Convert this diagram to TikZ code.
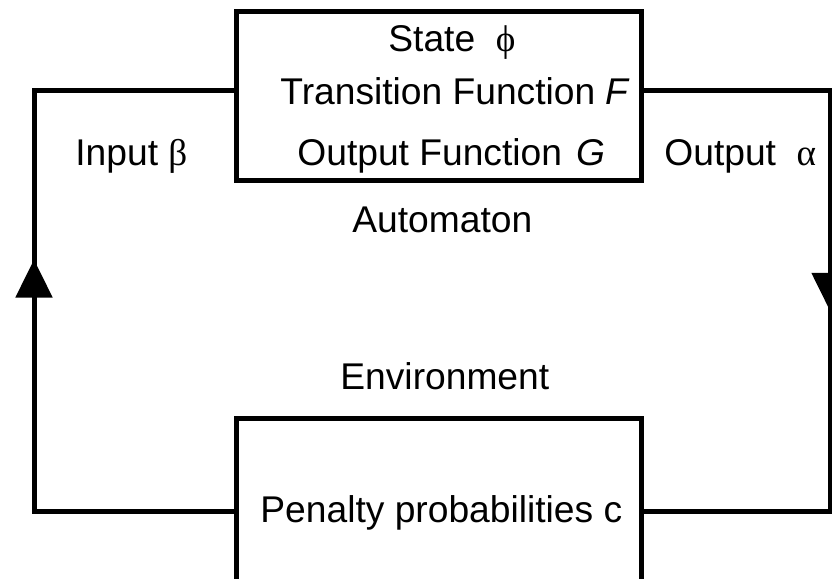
\documentclass[tikz,border=0pt]{standalone}
\usepackage{fontspec}
\setmainfont{Liberation Sans}
\newfontfamily\grk{Liberation Serif}
\usetikzlibrary{arrows.meta,positioning,calc,fit,decorations.markings}

\begin{document}
\begin{tikzpicture}[x=0.5pt, y=-0.5pt, font=\fontsize{18.6}{22}\selectfont]
          \tikzset{
            b/.style={draw=black, line width=2.5pt, inner sep=0pt},
            t/.style={anchor=base west, inner sep=0pt},
            arr/.style={line width=2.5pt, draw=black},
            tipat/.style={postaction={decorate, decoration={markings,
              mark=at position #1 with {\arrow{Triangle[width=18pt,length=19pt]}}}}}
          }
          \useasboundingbox (0,0) rectangle (832,579);
          \clip (0,0) rectangle (832,579);
          % boxes
          \coordinate (atl) at (236,11);
          \coordinate (abr) at (641,180);
          \node[b, fit=(atl)(abr)] (auto) {};
          \coordinate (etl) at (236,418);
          \coordinate (ebr) at (641,650);
          \node[b, fit=(etl)(ebr)] (env) {};
          % texts
          \node[t] (state) at (388,51) {State\ \ {\grk ϕ}};
          \node[t] (trans) at (280,104) {Transition Function \textit{F}};
          \node[t] (outf) at (297,165) {Output Function\hspace{0.4em}\textit{G}};
          \node[t] (inp) at (75,165) {Input {\grk β}};
          \node[t] (outp) at (664,165) {Output \ {\grk α}};
          \node[t] (autolbl) at (352,232) {Automaton};
          \node[t] (envlbl) at (340,389) {Environment};
          \node[t] (pen) at (260,522) {Penalty probabilities c};
          % loop corners
          \coordinate (lb) at (34,511);
          \coordinate (lt) at (34,90);
          \coordinate (rt) at (830,90);
          \coordinate (rb) at (830,511);
          \draw[arr, tipat=0.55] (lb -| env.west) -- (lb) -- (lt) -- (lt -| auto.west);
          \draw[arr, tipat=0.513] (rt -| auto.east) -- (rt) -- (rb) -- (rb -| env.east);
        \end{tikzpicture}
\end{document}
